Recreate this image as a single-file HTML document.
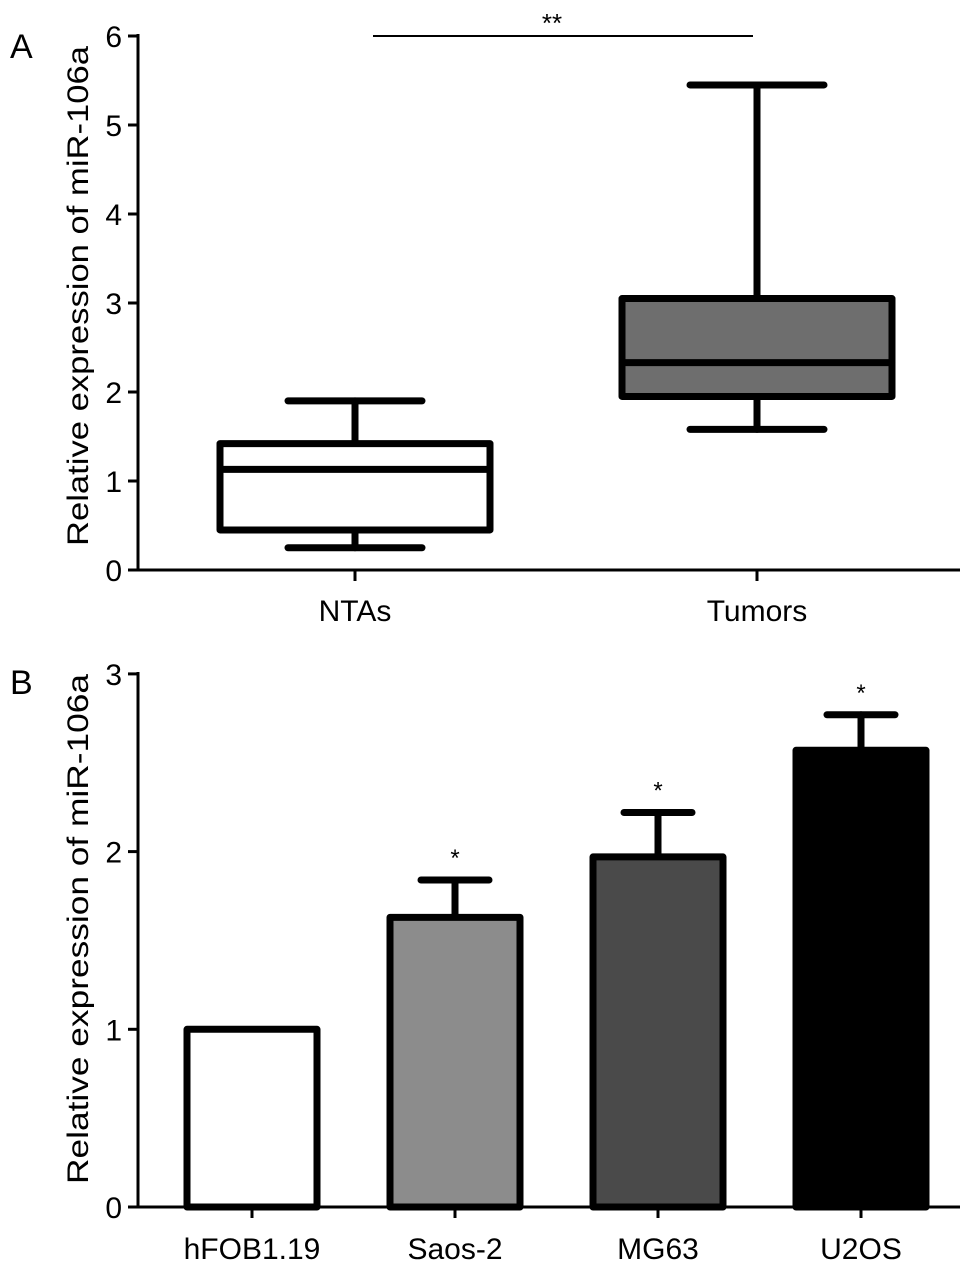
<!DOCTYPE html>
<html><head><meta charset="utf-8"><style>
body{margin:0;background:#fff}
svg{display:block;font-family:"Liberation Sans",Arial,sans-serif}
</style></head><body>
<svg id="chart" width="969" height="1273" viewBox="0 0 969 1273">
<text x="10" y="58" font-size="34">A</text>
<text x="10" y="694" font-size="34">B</text>
<text transform="translate(88,296) rotate(-90)" text-anchor="middle" font-size="30" textLength="500" lengthAdjust="spacingAndGlyphs">Relative expression of miR-106a</text>
<text transform="translate(88,929) rotate(-90)" text-anchor="middle" font-size="30" textLength="510" lengthAdjust="spacingAndGlyphs">Relative expression of miR-106a</text>
<g id="ga"></g><g id="gb"></g>
</svg>
<script>
const NS="http://www.w3.org/2000/svg";
const boxCats=["NTAs","Tumors"];
const boxMin=[0.25,1.58];
const boxQ1=[0.45,1.95];
const boxMed=[1.13,2.33];
const boxQ3=[1.42,3.05];
const boxMax=[1.9,5.45];
const boxFill=["#ffffff","#6e6e6e"];
const aTicks=[0,1,2,3,4,5,6];
const barCats=["hFOB1.19","Saos-2","MG63","U2OS"];
const barVals=[1.0,1.63,1.97,2.57];
const barErr=[0,0.21,0.25,0.2];
const barFill=["#ffffff","#8c8c8c","#4a4a4a","#000000"];
const bTicks=[0,1,2,3];

function mk(p,tag,at,txt){const e=document.createElementNS(NS,tag);for(const k in at)e.setAttribute(k,at[k]);if(txt!==undefined)e.textContent=txt;p.appendChild(e);return e;}
const ya=v=>570-v*89;
const xa=i=>355+i*402;
const yb=v=>1207-v*177.7;
const xb=i=>252+i*203;
const ga=document.getElementById('ga'),gb=document.getElementById('gb');

let e=mk(ga,'line',{x1:138,y1:34,x2:138,y2:571,stroke:'#000','stroke-width':3});

e=mk(ga,'line',{x1:137,y1:570,x2:960,y2:570,stroke:'#000','stroke-width':3});

aTicks.forEach(t=>{mk(ga,'line',{x1:128,y1:ya(t),x2:138,y2:ya(t),stroke:'#000','stroke-width':3});
 e=mk(ga,'text',{x:122,y:ya(t)+11,'text-anchor':'end','font-size':30},t);
 });
boxCats.forEach((c,i)=>{const x=xa(i),hw=135,cw=67;
 mk(ga,'line',{x1:x,y1:570,x2:x,y2:581,stroke:'#000','stroke-width':3});
 e=mk(ga,'text',{x:x,y:621,'text-anchor':'middle','font-size':30},c);
 
 const g=mk(ga,'g',{stroke:'#000','stroke-width':7,'stroke-linecap':'round'});
 
 mk(g,'line',{x1:x,y1:ya(boxMax[i]),x2:x,y2:ya(boxQ3[i])});
 mk(g,'line',{x1:x,y1:ya(boxMin[i]),x2:x,y2:ya(boxQ1[i])});
 mk(g,'line',{x1:x-cw,y1:ya(boxMax[i]),x2:x+cw,y2:ya(boxMax[i])});
 mk(g,'line',{x1:x-cw,y1:ya(boxMin[i]),x2:x+cw,y2:ya(boxMin[i])});
 mk(g,'rect',{x:x-hw,y:ya(boxQ3[i]),width:2*hw,height:ya(boxQ1[i])-ya(boxQ3[i]),fill:boxFill[i],'stroke-linejoin':'round'});
 mk(g,'line',{x1:x-hw,y1:ya(boxMed[i]),x2:x+hw,y2:ya(boxMed[i])});
});
e=mk(ga,'line',{x1:373,y1:36,x2:753,y2:36,stroke:'#000','stroke-width':2});

e=mk(ga,'text',{x:552,y:32,'text-anchor':'middle','font-size':26},'**');


e=mk(gb,'line',{x1:138,y1:672,x2:138,y2:1208,stroke:'#000','stroke-width':3});

e=mk(gb,'line',{x1:137,y1:1207,x2:960,y2:1207,stroke:'#000','stroke-width':3});

bTicks.forEach(t=>{mk(gb,'line',{x1:128,y1:yb(t),x2:138,y2:yb(t),stroke:'#000','stroke-width':3});
 e=mk(gb,'text',{x:122,y:yb(t)+11,'text-anchor':'end','font-size':30},t);
 });
barCats.forEach((c,i)=>{const x=xb(i),hw=65;
 mk(gb,'line',{x1:x,y1:1207,x2:x,y2:1218,stroke:'#000','stroke-width':3});
 e=mk(gb,'text',{x:x,y:1259,'text-anchor':'middle','font-size':30},c);
 
 if(barErr[i]>0){const g=mk(gb,'g',{stroke:'#000','stroke-width':7,'stroke-linecap':'round'});
  
  mk(g,'line',{x1:x,y1:yb(barVals[i]),x2:x,y2:yb(barVals[i]+barErr[i])});
  mk(g,'line',{x1:x-34,y1:yb(barVals[i]+barErr[i]),x2:x+34,y2:yb(barVals[i]+barErr[i])});
  e=mk(gb,'text',{x:x,y:yb(barVals[i]+barErr[i])-14,'text-anchor':'middle','font-size':24},'*');
  }
 e=mk(gb,'rect',{x:x-hw,y:yb(barVals[i]),width:2*hw,height:yb(0)-yb(barVals[i]),fill:barFill[i],stroke:'#000','stroke-width':7,'stroke-linejoin':'round'});
 
});
</script>
</body></html>
